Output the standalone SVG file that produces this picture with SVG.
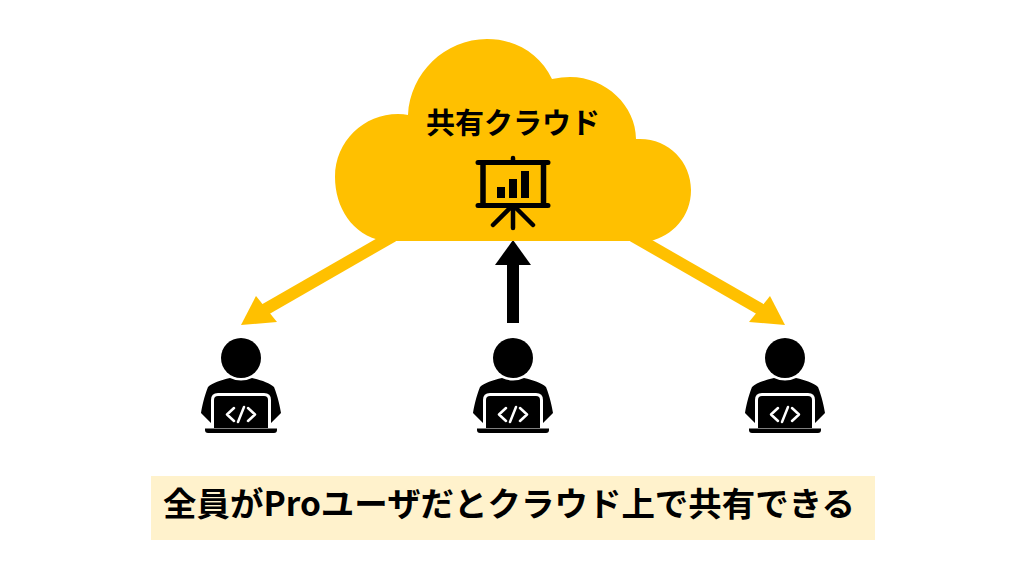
<svg xmlns="http://www.w3.org/2000/svg" width="1024" height="576" viewBox="0 0 1024 576">
<style>
.lbl{font-family:"Noto Sans CJK JP","Liberation Sans",sans-serif;font-weight:700;fill:#000}
.gold{fill:#ffc000}
.k{fill:none;stroke:#000;stroke-linecap:round}
</style>
<defs>
<g id="user">
<circle cx="0" cy="-54" r="20"/>
<path d="M-11-34C-20-32-29-29-33-25C-37-15-39-5-40 1L-30 11V-12Q-30-19-23-19H23Q30-19 30-12V11L40 1C39-5 37-15 33-25C29-29 20-32 11-34Q0-29-11-34Z"/>
<path d="M-27-12Q-27-16-23-16H23Q27-16 27-12V16H-27Z"/>
<path d="M-36 16.500H36V18Q36 21 33 21H-33Q-36 21-36 18Z"/>
<path d="M-7-4L-14 2.500L-7 9M7-4L14 2.500L7 9M3-5L-3 10" fill="none" stroke="#fff" stroke-width="2.500" stroke-linecap="round" stroke-linejoin="round"/>
</g>
</defs>
<rect width="1024" height="576" fill="#fff"/>
<g id="connectors">
<path d="M393 236L259 313" stroke="#ffc000" stroke-width="12" fill="none"/>
<polygon class="gold" points="241,325 277,322 256,296"/>
<path d="M633 236L767 313" stroke="#ffc000" stroke-width="12" fill="none"/>
<polygon class="gold" points="785,325 749,322 770,296"/>
<path d="M513 323V262" stroke="#000" stroke-width="12" fill="none"/>
<polygon points="513,240 531,265 495,265"/>
</g>
<g id="cloud">
<path class="gold" d="M383 241C352 235 335 207 335 177C335 141 364 114 398 114Q404 114 408 115C410 73 445 39 487 39C516 39 540 54 552 79Q562 77 570 77C606 77 636 106 636 139Q638 139 640 139C669 139 691 162 691 190C691 217 672 236 650 241Z"/>
<text class="lbl" x="513" y="134" font-size="29" text-anchor="middle">共有クラウド</text>
<g id="screen-icon">
<path class="k" stroke-width="5" d="M478 162.500H548M478 205.500H548"/>
<path class="k" stroke-width="4.500" d="M513 158V162"/>
<path fill="none" stroke="#000" stroke-width="5.500" d="M483 162V206M543.500 162V206"/>
<path class="k" stroke-width="4.500" d="M513 206V228M512 206L493 225M514 206L533 225"/>
<rect x="497" y="187" width="8" height="11"/>
<rect x="509" y="179" width="8" height="19"/>
<rect x="521" y="171" width="8" height="27"/>
</g>
</g>
<g id="user-left"><use href="#user" x="241" y="412"/></g>
<g id="user-center"><use href="#user" x="513" y="412"/></g>
<g id="user-right"><use href="#user" x="785" y="412"/></g>
<g id="caption">
<rect x="151" y="476" width="724" height="64" fill="#fff2cc"/>
<text class="lbl" x="163" y="516" font-size="33" textLength="692" lengthAdjust="spacingAndGlyphs">全員がProユーザだとクラウド上で共有できる</text>
</g>
</svg>
